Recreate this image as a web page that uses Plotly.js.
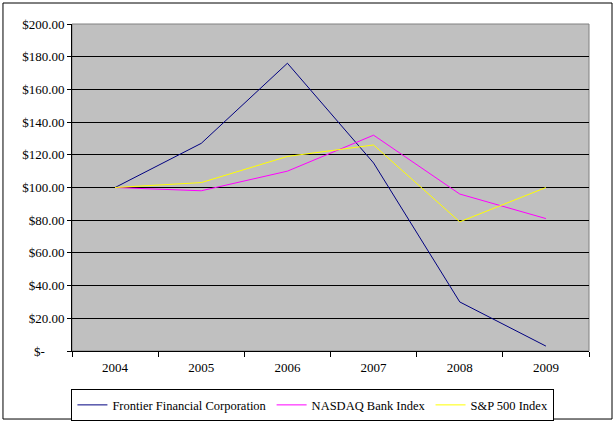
<!DOCTYPE html>
<html>
<head>
<meta charset="utf-8">
<script src="https://cdn.plot.ly/plotly-3.0.1.min.js"></script>
<style>html,body{margin:0;padding:0;background:#fff;}#chart{width:616px;height:426px;}</style>
</head>
<body>
<div id="chart"></div>
<script>
const years = ["2004", "2005", "2006", "2007", "2008", "2009"];
const frontier = [100, 127, 176, 115, 30, 3];
const nasdaqBank = [100, 98, 110, 132, 96, 81];
const sp500 = [100, 103, 119, 126, 79, 100];
const yTickVals = [0, 20, 40, 60, 80, 100, 120, 140, 160, 180, 200];
const yTickText = ["$-\u00a0\u00a0\u00a0\u00a0\u00a0\u00a0", "$20.00", "$40.00", "$60.00", "$80.00", "$100.00", "$120.00", "$140.00", "$160.00", "$180.00", "$200.00"];
const seriesNames = ["Frontier Financial Corporation", "NASDAQ Bank Index", "S&P 500 Index"];

const font = {family: "Liberation Serif, Times New Roman, serif", size: 13, color: "#000"};
const legendFont = {family: "Liberation Serif, Times New Roman, serif", size: 12.5, color: "#000"};

const traces = [
  {x: years, y: frontier, name: seriesNames[0], type: "scatter", mode: "lines", line: {color: "#000080", width: 1}},
  {x: years, y: nasdaqBank, name: seriesNames[1], type: "scatter", mode: "lines", line: {color: "#FF00FF", width: 1}},
  {x: years, y: sp500, name: seriesNames[2], type: "scatter", mode: "lines", line: {color: "#FFFF00", width: 1}}
];

const layout = {
  width: 616, height: 426,
  margin: {l: 72, r: 27, t: 24, b: 75, pad: 0, autoexpand: false},
  paper_bgcolor: "#fff",
  plot_bgcolor: "#C0C0C0",
  font: font,
  showlegend: true,
  xaxis: {
    type: "category", range: [-0.5, 5.5], tickson: "boundaries",
    ticks: "outside", ticklen: 5, tickcolor: "#000", tickwidth: 1,
    ticklabelstandoff: 4,
    showgrid: false, showline: true, linecolor: "#000", linewidth: 1,
    zeroline: false, tickfont: font, fixedrange: true, automargin: false
  },
  yaxis: {
    range: [0, 200], tickvals: yTickVals, ticktext: yTickText,
    ticks: "outside", ticklen: 4, tickcolor: "#000", tickwidth: 1,
    showgrid: true, gridcolor: "#000", gridwidth: 1,
    showline: true, linecolor: "#000", linewidth: 1,
    zeroline: false, tickfont: font, fixedrange: true, automargin: false
  },
  legend: {
    orientation: "h", x: 0.466, xanchor: "center", y: -0.117, yanchor: "top",
    bordercolor: "#000", borderwidth: 1, bgcolor: "#fff",
    font: legendFont, itemwidth: 30, tracegroupgap: 0
  },
  shapes: [
    {type: "rect", xref: "paper", yref: "paper", x0: 0, x1: 1, y0: 0, y1: 1,
     line: {color: "#808080", width: 1}, fillcolor: "rgba(0,0,0,0)", layer: "below"},
    {type: "rect", xref: "paper", yref: "paper", x0: -0.1335, x1: 1.0445, y0: -0.208, y1: 1.0642,
     line: {color: "#000", width: 1}, fillcolor: "rgba(0,0,0,0)", layer: "above"}
  ]
};

Plotly.newPlot("chart", traces, layout, {displayModeBar: false, staticPlot: true});
</script>
</body>
</html>
